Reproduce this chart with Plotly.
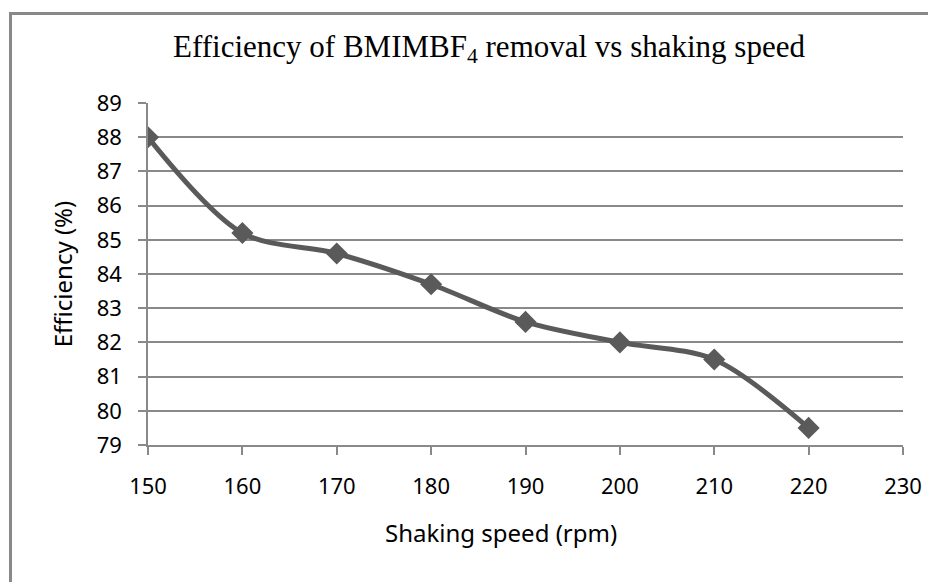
import plotly.graph_objects as go

speed = [150, 160, 170, 180, 190, 200, 210, 220]
efficiency = [88.0, 85.2, 84.6, 83.7, 82.6, 82.0, 81.5, 79.5]
x_ticks = [150, 160, 170, 180, 190, 200, 210, 220, 230]
y_ticks = [79, 80, 81, 82, 83, 84, 85, 86, 87, 88, 89]

# page body adds an 8px margin, so the figure is drawn 8px in from the window
W, H = 928, 574
L, R, T, B = 140, 33, 95, 137
pw, ph = W - L - R, H - T - B

def px(xp):
    return (xp - L) / pw

def py(yp):
    return (H - B - yp) / ph

grey = "#898989"
line_c = "#5a5a5a"
sans = "'Noto Sans', 'Open Sans', sans-serif"
tick_font = dict(family=sans, size=22, color="#000000")
title_font = dict(family=sans, size=24, color="#000000")

fig = go.Figure()
fig.add_trace(go.Scatter(
    x=speed, y=efficiency, mode="lines+markers",
    line=dict(color=line_c, width=5, shape="spline", smoothing=0.9),
    marker=dict(symbol="diamond", size=17, color=line_c),
    showlegend=False,
))

fig.update_layout(
    width=W, height=H,
    margin=dict(l=L, r=R, t=T, b=B),
    paper_bgcolor="white", plot_bgcolor="white",
    title=dict(
        text="Efficiency of BMIMBF<sub>4</sub> removal vs shaking speed",
        font=dict(family="'Liberation Serif', 'Times New Roman', serif", size=31, color="#000000"),
        x=px(481), xref="paper", xanchor="center",
        y=(H - 38) / H, yref="container", yanchor="middle",
    ),
    xaxis=dict(
        range=[150, 230], tickvals=x_ticks, showgrid=False,
        showline=True, linecolor=grey, linewidth=1.5,
        ticks="outside", ticklen=8, tickcolor=grey, tickwidth=1.5,
        tickfont=tick_font, ticklabelstandoff=13,
        zeroline=False,
    ),
    yaxis=dict(
        range=[79, 89], tickvals=y_ticks, showgrid=True, gridcolor=grey, gridwidth=1.5,
        showline=True, linecolor=grey, linewidth=1.5,
        ticks="outside", ticklen=8, tickcolor=grey, tickwidth=1.5,
        tickfont=tick_font, ticklabelstandoff=12,
        title=dict(text="Efficiency (%)", font=title_font, standoff=17),
        zeroline=False,
    ),
    annotations=[dict(
        text="Shaking speed (rpm)", font=title_font, showarrow=False,
        xref="paper", yref="paper", x=px(493), y=py(524),
        xanchor="center", yanchor="middle",
    )],
    shapes=[dict(
        type="rect", xref="paper", yref="paper",
        x0=px(2.5), x1=px(960), y0=py(620), y1=py(5.5),
        line=dict(color=grey, width=3), fillcolor="rgba(0,0,0,0)", layer="below",
    )],
)

fig.write_html("out.html")
